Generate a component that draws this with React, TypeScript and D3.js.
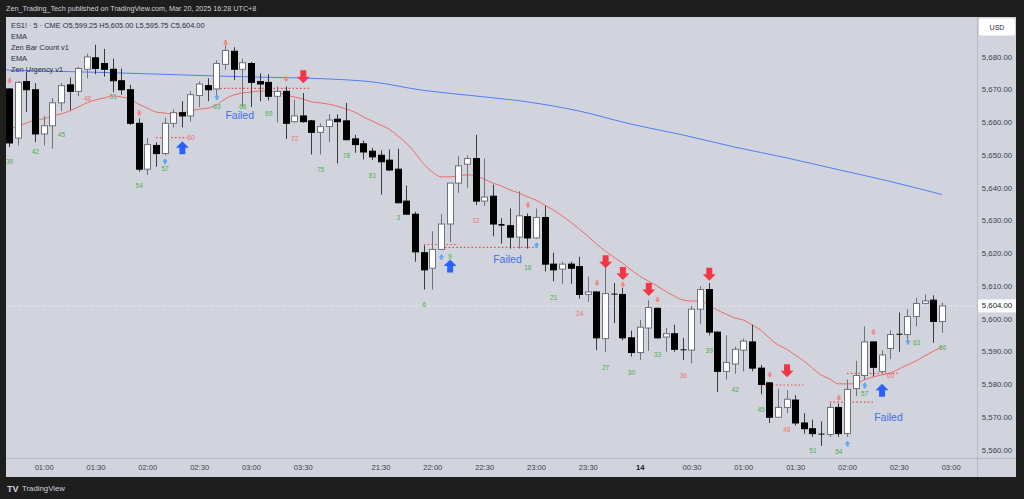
import React from 'react';
import * as d3 from 'd3';

// ---------- OHLC (5-min ES1!) ----------
const opens = [5670.25,5655.25,5672.5,5670.0,5656.5,5659.0,5666.0,5671.5,5669.5,5676.25,5679.75,5678.0,5676.25,5672.75,5670.0,5659.75,5645.75,5653.0,5650.5,5659.75,5663.0,5662.0,5668.25,5671.25,5670.25,5677.75,5681.75,5676.25,5678.0,5672.5,5672.25,5668.0,5669.5,5660.25,5662.0,5660.5,5657.0,5658.75,5661.0,5660.5,5655.0,5653.5,5651.25,5650.0,5648.5,5645.75,5636.0,5632.0,5620.25,5615.5,5621.25,5629.0,5641.5,5647.25,5649.0,5636.0,5637.5,5629.0,5628.5,5625.0,5631.25,5624.75,5631.0,5616.75,5615.25,5616.75,5616.0,5607.5,5608.25,5594.0,5607.75,5607.5,5594.25,5589.75,5597.25,5603.25,5594.5,5595.5,5590.75,5590.5,5603.0,5609.0,5596.0,5584.0,5586.25,5590.5,5593.0,5585.0,5580.5,5570.0,5573.0,5575.25,5568.25,5566.5,5565.0,5564.75,5573.0,5565.0,5578.75,5582.75,5593.0,5584.0,5591.0,5595.5,5595.25,5600.75,5604.75,5605.75,5599.25];
const highs = [5670.5,5672.5,5675.5,5672.0,5662.0,5667.5,5672.0,5673.75,5677.0,5681.0,5683.75,5682.5,5679.5,5676.5,5671.5,5661.25,5655.25,5654.0,5661.5,5664.0,5666.5,5669.5,5672.5,5673.5,5679.0,5685.25,5683.0,5679.5,5678.5,5675.0,5674.75,5671.0,5671.0,5667.0,5669.0,5660.75,5659.75,5662.5,5662.5,5666.0,5656.25,5654.5,5652.25,5651.5,5651.75,5652.0,5640.75,5632.75,5622.5,5626.75,5632.0,5641.5,5649.75,5650.0,5656.25,5649.0,5641.0,5630.75,5633.75,5639.0,5632.25,5633.75,5634.5,5620.25,5617.5,5617.5,5619.0,5613.0,5608.5,5616.5,5611.0,5609.5,5596.5,5599.75,5605.75,5603.5,5597.25,5598.25,5594.25,5604.0,5610.0,5611.0,5596.25,5595.0,5591.5,5594.0,5598.25,5586.0,5580.75,5578.75,5578.25,5576.75,5571.25,5569.25,5568.75,5574.25,5574.25,5581.5,5587.25,5597.75,5593.25,5590.5,5596.5,5602.0,5603.0,5606.5,5607.5,5607.25,5605.0];
const lows = [5652.5,5653.0,5663.25,5654.0,5653.0,5652.0,5663.5,5663.75,5668.0,5673.5,5674.75,5674.0,5669.25,5668.5,5659.25,5645.0,5644.0,5646.5,5650.0,5658.5,5658.5,5660.25,5664.75,5666.5,5667.5,5676.0,5673.0,5664.75,5664.75,5666.5,5666.75,5660.0,5655.0,5660.0,5660.0,5650.25,5650.25,5654.0,5647.5,5654.5,5650.75,5648.75,5648.5,5638.0,5645.25,5635.25,5632.0,5617.5,5609.0,5609.0,5621.0,5623.5,5638.5,5640.0,5634.75,5634.5,5625.25,5623.0,5621.5,5621.5,5621.5,5624.5,5614.5,5611.5,5610.75,5610.75,5606.25,5605.25,5590.5,5590.0,5598.75,5593.5,5588.5,5587.5,5590.25,5594.0,5590.0,5590.0,5587.5,5586.5,5598.5,5595.0,5577.75,5581.5,5583.25,5584.0,5584.0,5577.0,5568.25,5570.0,5571.25,5567.5,5565.0,5564.0,5561.25,5564.0,5564.0,5564.0,5576.5,5581.5,5582.5,5583.5,5587.75,5590.0,5592.5,5597.75,5604.5,5592.75,5595.75];
const closes = [5653.75,5672.25,5670.0,5656.5,5659.0,5666.0,5671.25,5669.5,5676.5,5680.0,5676.5,5676.25,5672.75,5670.0,5659.75,5645.75,5653.25,5650.5,5659.75,5663.0,5662.0,5668.5,5671.75,5670.0,5678.0,5682.0,5676.25,5678.25,5672.25,5671.75,5668.0,5669.5,5659.75,5662.0,5660.25,5657.0,5658.75,5660.75,5660.25,5654.75,5653.25,5651.0,5649.5,5648.0,5645.5,5635.5,5632.0,5620.5,5615.0,5621.25,5629.0,5641.5,5646.75,5649.0,5636.0,5637.25,5629.0,5628.5,5625.0,5631.5,5624.75,5631.0,5616.75,5615.0,5616.75,5615.5,5607.5,5608.25,5594.25,5607.75,5607.5,5594.25,5589.75,5597.5,5603.5,5594.25,5595.5,5590.75,5590.5,5603.0,5609.0,5596.0,5584.0,5586.75,5590.75,5593.25,5585.0,5580.0,5570.0,5573.0,5575.5,5568.25,5566.5,5565.0,5564.75,5573.0,5565.0,5578.5,5582.75,5593.0,5585.25,5589.0,5595.25,5595.25,5600.75,5604.75,5605.5,5599.25,5604.0];

// ---------- EMAs ----------
const redEma = [5658.0,5658.9,5659.8,5660.8,5661.1,5662.0,5662.6,5663.5,5664.7,5666.0,5666.9,5667.5,5668.1,5667.8,5667.2,5665.6,5664.4,5663.2,5662.9,5662.6,5662.9,5663.5,5664.1,5664.4,5665.3,5667.2,5668.4,5669.0,5669.3,5669.6,5669.6,5669.3,5668.4,5667.8,5667.2,5666.3,5666.0,5665.6,5665.0,5664.1,5663.2,5661.7,5660.5,5659.2,5658.0,5655.9,5653.7,5650.7,5647.3,5644.9,5643.4,5643.4,5643.7,5644.0,5643.7,5642.7,5641.5,5640.6,5639.4,5638.5,5637.3,5636.3,5634.8,5633.3,5631.5,5629.6,5627.5,5625.3,5622.9,5620.8,5618.9,5617.1,5615.0,5613.1,5611.6,5610.1,5608.5,5607.0,5605.8,5605.5,5605.5,5604.3,5602.7,5601.5,5600.3,5599.7,5598.2,5596.6,5594.2,5592.1,5590.8,5589.0,5587.2,5585.0,5582.9,5581.7,5580.2,5580.2,5580.2,5581.4,5582.3,5582.9,5583.5,5584.7,5586.0,5587.2,5588.7,5590.2,5591.5];
const blueEmaBars = [-1,0,6,12,18,24,30,36,42,48,54,60,66,72,78,84,90,96,102,108];
const blueEmaValues = [5676.2,5676.0,5675.6,5675.2,5674.7,5674.2,5673.8,5673.4,5672.4,5669.8,5668.1,5666.3,5663.5,5659.5,5656.2,5652.5,5649.2,5645.6,5642.0,5638.0];

// ---------- Axis ticks ----------
const priceTicks = [5560,5570,5580,5590,5600,5610,5620,5630,5640,5650,5660,5670,5680];
const timeTickBars = [4,10,16,22,28,34,43,49,55,61,67,73,79,85,91,97,103,109];
const timeTickLabels = ['01:00','01:30','02:00','02:30','03:00','03:30','21:30','22:00','22:30','23:00','23:30','14','00:30','01:00','01:30','02:00','02:30','03:00'];

// ---------- Indicator marks ----------
const countLabels = ['39','42','45','48','51','54','57','60','63','66','69','72','75','78','81','3','6','9','12','18','21','24','27','30','33','36','39','42','45','48','51','54','57','60','63','66'];
const countBars = [0,3,6,9,12,15,18,21,24,27,30,33,36,39,42,45,48,51,54,60,63,66,69,72,75,78,81,84,87,90,93,96,99,102,105,108];
const countPrices = [5648.0,5651.1,5656.2,5667.4,5667.8,5640.8,5646.0,5655.4,5665.0,5665.0,5662.8,5655.2,5645.7,5649.9,5643.8,5630.9,5604.5,5619.2,5630.0,5615.7,5606.6,5601.7,5585.1,5583.7,5589.2,5582.8,5590.4,5578.4,5572.4,5566.3,5560.0,5559.4,5577.3,5582.7,5592.9,5591.2];
const countIsRed = [0,0,0,1,0,0,0,1,0,0,0,1,0,0,0,0,0,0,1,0,0,1,0,0,0,1,0,0,0,1,0,0,0,1,0,0];

const redDotBars = [0,15,25,32,60,68,71,75,88,96,100];
const redDotPrices = [5672.7,5662.8,5684.2,5673.2,5634.7,5610.9,5610.4,5605.8,5582.9,5575.8,5595.9];
const blueDotBars = [18,24,50,61,97,99,104];
const blueDotPrices = [5648.2,5667.8,5619.0,5622.6,5562.0,5579.8,5593.1];

const redArrowBars = [34,69,71,74,81,90];
const redArrowTips = [5672.0,5615.5,5611.9,5607.0,5611.7,5582.2];
const blueArrowBars = [20,51,101];
const blueArrowTips = [5654.3,5618.2,5580.2];

const levelStarts = [17,24,48,50,87,95,97];
const levelEnds = [20.6,35,52,61,92,100,103];
const levelPrices = [5655.4,5670.4,5622.75,5621.9,5579.85,5574.6,5583.4];

const failedBars = [26.7,57.7,101.8];
const failedPrices = [5662.3,5618.3,5570.1];

const lastPrice = 5604.0;

export default function App() {
  const W = 1024, H = 499;
  const left = 6, right = 1016, plotRight = 977, top = 17, axisY = 458.5, bottom = 477;
  const x = d3.scaleLinear().domain([0, 108]).range([9.1, 942]);
  const y = d3.scaleLinear().domain([5560, 5680]).range([450, 57]);
  const fmt = d3.format(',.2f');
  const font = "'Liberation Sans', Arial, sans-serif";

  const redLine = d3.line<number>().x((_, i) => x(i)).y(d => y(d)).curve(d3.curveMonotoneX)(redEma) || '';
  const bluePts = blueEmaBars.map((b, i) => [x(b), y(blueEmaValues[i])] as [number, number]);
  const blueLine = d3.line().curve(d3.curveMonotoneX)(bluePts) || '';

  const downArrow = (cx: number, tip: number) =>
    `M${cx - 3},${tip - 13}H${cx + 3}V${tip - 6.5}H${cx + 6.5}L${cx},${tip}L${cx - 6.5},${tip - 6.5}H${cx - 3}Z`;
  const upArrow = (cx: number, tip: number) =>
    `M${cx - 3},${tip + 13}H${cx + 3}V${tip + 6.5}H${cx + 6.5}L${cx},${tip}L${cx - 6.5},${tip + 6.5}H${cx - 3}Z`;
  const smallDown = (cx: number, cy: number) =>
    `M${cx - 1.2},${cy - 3}H${cx + 1.2}V${cy - 0.5}H${cx + 2.8}L${cx},${cy + 2.8}L${cx - 2.8},${cy - 0.5}H${cx - 1.2}Z`;
  const smallUp = (cx: number, cy: number) =>
    `M${cx - 1.2},${cy + 3}H${cx + 1.2}V${cy + 0.5}H${cx + 2.8}L${cx},${cy - 2.8}L${cx - 2.8},${cy + 0.5}H${cx - 1.2}Z`;

  return (
    <svg width={W} height={H} style={{ position: 'absolute', left: 0, top: 0, display: 'block' }} fontFamily={font}>
      <defs>
        <clipPath id="plot"><rect x={left} y={top} width={plotRight - left} height={axisY - top} /></clipPath>
      </defs>
      <rect x={0} y={0} width={W} height={H} fill="#1e1e1e" />
      <text x={6} y={10.5} fontSize={7.2} fill="#cfd1d6">Zen_Trading_Tech published on TradingView.com, Mar 20, 2025 16:28 UTC+8</text>
      <rect x={left} y={top} width={right - left} height={bottom - top} fill="#d1d4dc" />

      {/* axes separators */}
      <line x1={plotRight + 0.5} x2={plotRight + 0.5} y1={top} y2={bottom} stroke="#b6b9c2" />
      <line x1={left} x2={right} y1={axisY} y2={axisY} stroke="#b6b9c2" />

      <g clipPath="url(#plot)">
        {/* last price dotted line */}
        <line x1={left} x2={plotRight} y1={y(lastPrice)} y2={y(lastPrice)} stroke="#f4f5f7" strokeDasharray="1,2" />
        {/* EMAs */}
        <path d={blueLine} fill="none" stroke="#4d7ff2" strokeWidth={1} />
        <path d={redLine} fill="none" stroke="#ee6a6a" strokeWidth={1} />
        {/* level lines */}
        {levelPrices.map((p, i) => (
          <line key={'lv' + i} x1={x(levelStarts[i])} x2={x(levelEnds[i])} y1={y(p)} y2={y(p)}
            stroke="#f04a4a" strokeWidth={1.2} strokeDasharray="1.6,2.2" />
        ))}
        {/* candles */}
        {opens.map((o, i) => {
          const c = closes[i];
          const cx = Math.round(x(i));
          const up = c > o;
          const yt = y(Math.max(o, c)), yb = y(Math.min(o, c));
          const h = Math.max(1, yb - yt);
          return (
            <g key={'c' + i}>
              <line x1={cx + 0.5} x2={cx + 0.5} y1={y(highs[i])} y2={y(lows[i])} stroke={up ? '#6e717a' : '#3a3a3a'} strokeWidth={1} />
              {up ? (
                <rect x={cx - 2.5} y={yt} width={6} height={h} fill="#ffffff" stroke="#6e717a" strokeWidth={1} />
              ) : (
                <rect x={cx - 2.5} y={yt} width={6} height={h} fill="#000000" stroke="#000000" strokeWidth={h < 2 ? 0 : 1} />
              )}
            </g>
          );
        })}
        {/* small dots */}
        {redDotBars.map((b, i) => (
          <path key={'rd' + i} d={smallDown(x(b) + 0.5, y(redDotPrices[i]))} fill="#f2898b" />
        ))}
        {blueDotBars.map((b, i) => (
          <path key={'bd' + i} d={smallUp(x(b) + 0.5, y(blueDotPrices[i]))} fill="#5ea7f2" />
        ))}
        {/* big arrows */}
        {redArrowBars.map((b, i) => (
          <path key={'ra' + i} d={downArrow(x(b) + 0.5, y(redArrowTips[i]))} fill="#f23645" />
        ))}
        {blueArrowBars.map((b, i) => (
          <path key={'ba' + i} d={upArrow(x(b) + 0.5, y(blueArrowTips[i]))} fill="#2962ff" />
        ))}
        {/* bar count labels */}
        {countLabels.map((t, i) => (
          <text key={'cl' + i} x={x(countBars[i]) + 0.5} y={y(countPrices[i])} fontSize={6.6} textAnchor="middle"
            dominantBaseline="central" fill={countIsRed[i] ? '#ef7070' : '#4caf50'}>{t}</text>
        ))}
        {failedBars.map((b, i) => (
          <text key={'f' + i} x={x(b)} y={y(failedPrices[i])} fontSize={10.5} textAnchor="middle"
            dominantBaseline="central" fill="#3f6fe8">Failed</text>
        ))}
      </g>

      {/* legend */}
      <text x={11} y={25.5} fontSize={7.4} fill="#2a2e39" dominantBaseline="central">ES1! · 5 · CME  O5,599.25 H5,605.00 L5,595.75 C5,604.00</text>
      <text x={11} y={36.5} fontSize={7.4} fill="#2a2e39" dominantBaseline="central">EMA</text>
      <text x={11} y={47.5} fontSize={7.4} fill="#2a2e39" dominantBaseline="central">Zen Bar Count v1</text>
      <text x={11} y={58.5} fontSize={7.4} fill="#2a2e39" dominantBaseline="central">EMA</text>
      <text x={11} y={69} fontSize={7.4} fill="#2a2e39" dominantBaseline="central">Zen Urgency v1</text>

      {/* price axis */}
      <rect x={979} y={18.5} width={36} height={17} rx={2} fill="#ffffff" />
      <text x={997} y={27} fontSize={7} textAnchor="middle" dominantBaseline="central" fill="#2a2e39">USD</text>
      {priceTicks.map(p => (
        <text key={'pt' + p} x={997} y={y(p)} fontSize={7.8} textAnchor="middle" dominantBaseline="central" fill="#3b3f4a">{fmt(p)}</text>
      ))}
      <rect x={978} y={y(lastPrice) - 6.5} width={38} height={13} fill="#ffffff" />
      <text x={997} y={y(lastPrice)} fontSize={7.8} textAnchor="middle" dominantBaseline="central" fill="#131722">{fmt(lastPrice)}</text>

      {/* time axis */}
      {timeTickBars.map((b, i) => (
        <text key={'tt' + i} x={x(b) + 0.5} y={467.5} fontSize={7.6} textAnchor="middle" dominantBaseline="central"
          fill={timeTickLabels[i] === '14' ? '#131722' : '#3b3f4a'} fontWeight={timeTickLabels[i] === '14' ? 'bold' : 'normal'}>{timeTickLabels[i]}</text>
      ))}

      {/* footer */}
      <text x={7} y={488.5} fontSize={9} fontWeight="bold" fill="#d1d4dc" dominantBaseline="central">TV</text>
      <text x={22} y={488.5} fontSize={7.8} fill="#d1d4dc" dominantBaseline="central">TradingView</text>
    </svg>
  );
}
